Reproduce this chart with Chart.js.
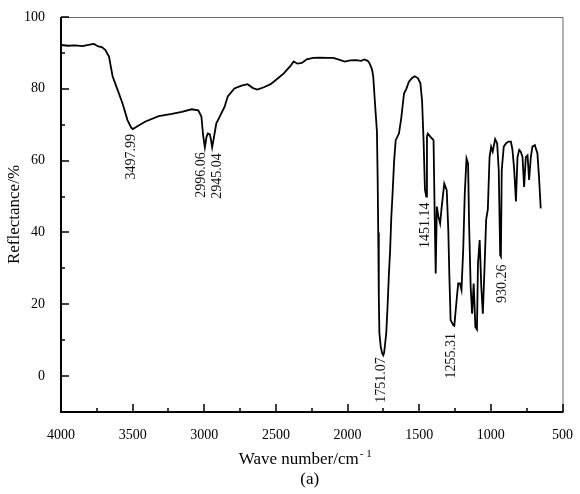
<!DOCTYPE html>
<html>
<head>
<meta charset="utf-8">
<script src="https://cdn.jsdelivr.net/npm/chart.js@4"></script>
<style>
  html, body { margin: 0; padding: 0; background: #fff; }
  #wrap { width: 580px; height: 494px; position: relative; }
</style>
</head>
<body>
<div id="wrap"><canvas id="irChart"></canvas></div>
<script>
// wave numbers (cm-1) and reflectance (%)
var waveNumbers = [4000, 3950, 3900, 3850, 3800, 3770, 3740, 3715, 3690, 3665, 3640, 3605, 3571, 3536, 3510, 3498, 3470, 3410, 3318, 3226, 3157, 3088, 3042, 3020, 3008, 2996, 2985, 2975, 2962, 2954, 2945, 2936, 2916, 2893, 2858, 2836, 2790, 2740, 2698, 2660, 2629, 2580, 2537, 2490, 2445, 2400, 2376, 2350, 2319, 2285, 2240, 2193, 2140, 2100, 2060, 2021, 1980, 1940, 1905, 1883, 1860, 1848, 1830, 1821, 1807, 1795, 1790, 1786, 1782, 1778, 1768, 1758, 1751, 1745, 1738, 1730, 1721, 1712, 1703, 1695, 1687, 1675, 1664, 1641, 1625, 1606, 1590, 1572, 1550, 1531, 1510, 1492, 1480, 1469, 1460, 1451, 1446, 1440, 1423, 1400, 1392, 1385, 1377, 1366, 1354, 1343, 1325, 1308, 1297, 1290, 1281, 1262, 1255, 1239, 1228, 1216, 1205, 1193, 1182, 1170, 1159, 1152, 1141, 1131, 1120, 1108, 1097, 1090, 1078, 1067, 1056, 1044, 1033, 1021, 1016, 1009, 998, 987, 970, 956, 945, 935, 930, 924, 910, 894, 878, 860, 849, 837, 825, 814, 802, 791, 779, 768, 756, 744, 733, 721, 710, 693, 675, 664, 652];
var reflectance = [92.2, 92.0, 92.1, 91.9, 92.3, 92.5, 91.8, 91.6, 90.8, 89.0, 83.5, 79.7, 76.0, 71.3, 69.2, 68.8, 69.5, 70.9, 72.4, 73.0, 73.6, 74.3, 74.0, 72.3, 67.0, 63.7, 66.5, 67.6, 67.4, 66.0, 63.7, 65.7, 70.4, 72.2, 75.0, 77.9, 80.1, 80.9, 81.3, 80.2, 79.8, 80.5, 81.3, 82.8, 84.3, 86.3, 87.6, 87.0, 87.2, 88.2, 88.6, 88.7, 88.6, 88.6, 88.1, 87.6, 87.9, 88.0, 87.8, 88.2, 87.8, 87.2, 85.5, 83.5, 75.0, 68.0, 55.0, 40.0, 22.0, 12.0, 8.0, 6.3, 5.8, 6.5, 9.0, 12.0, 19.3, 28.0, 35.0, 44.0, 50.0, 60.0, 65.7, 67.6, 72.0, 78.7, 80.0, 82.0, 83.0, 83.5, 83.0, 81.6, 76.6, 64.8, 52.0, 50.0, 66.7, 67.5, 66.7, 65.7, 45.0, 28.6, 47.2, 44.4, 42.5, 47.2, 53.6, 51.8, 40.7, 28.6, 15.6, 14.2, 14.0, 21.2, 25.8, 25.8, 24.0, 35.1, 50.9, 60.6, 59.2, 42.5, 25.0, 17.4, 25.8, 13.7, 13.0, 31.3, 37.9, 25.0, 17.4, 30.4, 43.5, 46.5, 52.7, 61.0, 63.9, 62.5, 66.0, 64.8, 57.4, 33.7, 33.3, 57.4, 63.9, 64.8, 65.3, 65.3, 63.0, 57.4, 48.6, 61.0, 63.0, 62.5, 61.0, 52.7, 61.0, 61.5, 54.6, 61.0, 63.9, 64.3, 62.0, 55.5, 46.7];

// marked peaks
var peakNames = ['3497.99', '2996.06', '2945.04', '1751.07', '1451.14', '1255.31', '930.26'];
var peakX = [3497.99, 2996.06, 2945.04, 1751.07, 1451.14, 1255.31, 930.26];
var peakY = [68.8, 63.7, 63.7, 5.8, 50.0, 14.2, 33.3];

// axis ticks
var xTicks = [4000, 3500, 3000, 2500, 2000, 1500, 1000, 500];
var yTicks = [0, 20, 40, 60, 80, 100];

var FONT = "'Liberation Serif', 'Times New Roman', serif";
Chart.defaults.font.family = FONT;
Chart.defaults.color = '#000';

// label nudges so neighbouring peak labels don't overlap (px)
var labelDx = [-2, -4, 5, -2, -1, -3, 1];
var labelGap = [5, 5, 6, 2, 6, 8, 8];

var framePlugin = {
  id: 'frame',
  afterDraw: function (chart) {
    var ctx = chart.ctx;
    var a = chart.chartArea;
    var xs = chart.scales.x, ys = chart.scales.y;
    ctx.save();

    // top + right border (thin grey)
    ctx.strokeStyle = '#666';
    ctx.lineWidth = 1;
    ctx.beginPath();
    ctx.moveTo(a.left, a.top + 0.5);
    ctx.lineTo(a.right + 0.5, a.top + 0.5);
    ctx.lineTo(a.right + 0.5, a.bottom);
    ctx.stroke();

    // left + bottom axes, ticks pointing in
    ctx.strokeStyle = '#000';
    ctx.lineWidth = 2;
    ctx.beginPath();
    ctx.moveTo(a.left, a.top);
    ctx.lineTo(a.left, a.bottom);
    ctx.lineTo(a.right + 1, a.bottom);
    ctx.stroke();

    ctx.lineWidth = 1.5;
    ctx.beginPath();
    for (var v = 500; v <= 4000; v += 250) {
      var px = Math.round(xs.getPixelForValue(v));
      var len = v % 500 === 0 ? 8 : 4;
      ctx.moveTo(px, a.bottom);
      ctx.lineTo(px, a.bottom - len);
    }
    for (var w = -10; w <= 100; w += 10) {
      var py = Math.round(ys.getPixelForValue(w));
      var l2 = w % 20 === 0 ? 8 : 4;
      ctx.moveTo(a.left, py);
      ctx.lineTo(a.left + l2, py);
    }
    ctx.stroke();

    // peak labels, vertical
    ctx.fillStyle = '#111';
    ctx.font = '14px ' + FONT;
    ctx.textAlign = 'right';
    ctx.textBaseline = 'middle';
    for (var i = 0; i < peakNames.length; i++) {
      var lx = xs.getPixelForValue(peakX[i]) + labelDx[i];
      var ly = ys.getPixelForValue(peakY[i]) + labelGap[i];
      ctx.save();
      ctx.translate(lx, ly);
      ctx.rotate(-Math.PI / 2);
      ctx.fillText(peakNames[i], 0, 0);
      ctx.restore();
    }

    // x title with superscript, and panel tag
    ctx.fillStyle = '#000';
    var main = 'Wave number/cm', sup = '- 1';
    ctx.font = '17px ' + FONT;
    var wMain = ctx.measureText(main).width;
    ctx.font = '11px ' + FONT;
    var wSup = ctx.measureText(sup).width;
    var cx = (a.left + a.right) / 2 - 7;
    var x0 = cx - (wMain + wSup) / 2;
    ctx.textAlign = 'left';
    ctx.textBaseline = 'alphabetic';
    ctx.font = '17px ' + FONT;
    ctx.fillText(main, x0, 464);
    ctx.font = '11px ' + FONT;
    ctx.fillText(sup, x0 + wMain + 1, 457);

    ctx.font = '17px ' + FONT;
    ctx.textAlign = 'center';
    ctx.fillText('(a)', (a.left + a.right) / 2 - 2, 484);
    ctx.restore();
  }
};

var ctx = document.getElementById('irChart').getContext('2d');
var irChart = new Chart(ctx, {
  type: 'line',
  data: {
    datasets: [{
      label: 'Reflectance',
      data: waveNumbers.map(function (x, i) { return { x: x, y: reflectance[i] }; }),
      borderColor: '#000',
      borderWidth: 1.8,
      pointRadius: 0,
      tension: 0,
      fill: false
    }]
  },
  options: {
    responsive: true,
    maintainAspectRatio: false,
    animation: false,
    events: [],
    layout: { padding: { top: 17, right: 12, left: 0, bottom: 0 } },
    plugins: {
      legend: { display: false },
      tooltip: { enabled: false }
    },
    scales: {
      x: {
        type: 'linear',
        reverse: true,
        min: 500,
        max: 4000,
        afterBuildTicks: function (s) { s.ticks = xTicks.map(function (v) { return { value: v }; }); },
        afterFit: function (s) { s.height = 82; },
        grid: { display: false },
        border: { display: false },
        ticks: {
          autoSkip: false, maxRotation: 0, padding: 7, font: { size: 14 }, color: '#000',
          callback: function (value) { return String(value); }
        }
      },
      y: {
        min: -10,
        max: 100,
        afterBuildTicks: function (s) { s.ticks = yTicks.map(function (v) { return { value: v }; }); },
        afterFit: function (s) { s.width = 61; },
        grid: { display: false },
        border: { display: false },
        ticks: { padding: 8, font: { size: 14 }, color: '#000' },
        title: { display: true, text: 'Reflectance/%', font: { size: 17 }, color: '#000', padding: { top: 4, bottom: 0 } }
      }
    }
  },
  plugins: [framePlugin]
});
</script>
</body>
</html>
